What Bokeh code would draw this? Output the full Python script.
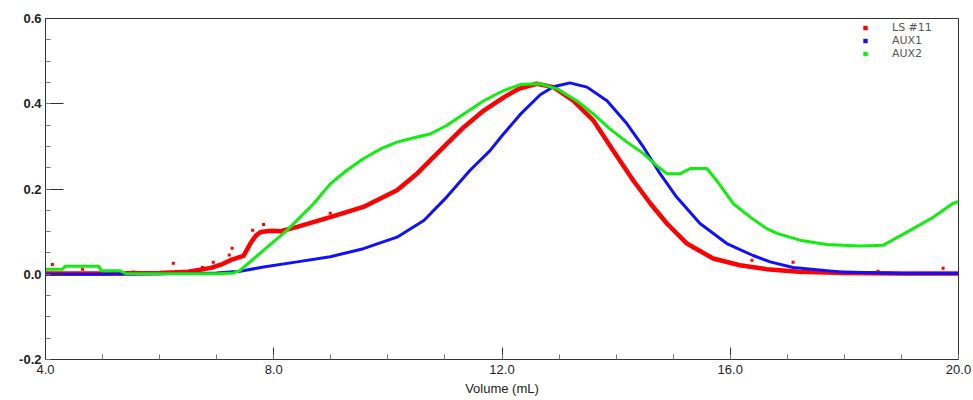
from bokeh.plotting import figure
from bokeh.models import (Range1d, FixedTicker, NumeralTickFormatter, Legend, LegendItem)
from bokeh.embed import file_html
from bokeh.resources import INLINE

# ---- data ----
ls11_x = [4.0, 5.0, 6.0, 6.5, 6.9, 7.1, 7.24, 7.4, 7.47, 7.59, 7.68, 7.77, 7.95, 8.12, 8.41,
          8.99, 9.57, 10.16, 10.51, 10.86, 11.33, 11.68, 12.03, 12.29, 12.61, 12.9, 13.25,
          13.6, 13.95, 14.3, 14.6, 14.89, 15.24, 15.7, 16.17, 16.64, 17.2, 18.0, 19.0, 20.0]
ls11_y = [0.002, 0.002, 0.003, 0.006, 0.015, 0.024, 0.033, 0.040, 0.043, 0.072, 0.090, 0.099,
          0.102, 0.101, 0.111, 0.134, 0.158, 0.197, 0.236, 0.283, 0.345, 0.384, 0.415, 0.435,
          0.447, 0.439, 0.407, 0.361, 0.290, 0.220, 0.166, 0.119, 0.072, 0.037, 0.021, 0.012,
          0.006, 0.003, 0.002, 0.002]
ls11_out_x = [4.12, 4.65, 5.54, 6.24, 6.75, 6.94, 7.22, 7.27, 7.63, 7.82, 8.99, 16.38, 17.1, 18.59, 19.73]
ls11_out_y = [0.023, 0.012, 0.005, 0.026, 0.016, 0.028, 0.045, 0.061, 0.103, 0.117, 0.143,
              0.033, 0.028, 0.007, 0.014]

aux1_x = [4.0, 5.0, 6.0, 7.0, 7.41, 7.82, 8.41, 8.99, 9.57, 10.16, 10.63, 11.03, 11.44, 11.79,
          12.0, 12.32, 12.67, 12.9, 13.19, 13.49, 13.84, 14.19, 14.48, 14.77, 15.06, 15.47,
          15.94, 16.4, 16.7, 17.1, 17.98, 19.0, 20.0]
aux1_y = [0.0, 0.0, 0.001, 0.003, 0.007, 0.017, 0.029, 0.041, 0.060, 0.087, 0.126, 0.181, 0.244,
          0.290, 0.325, 0.375, 0.421, 0.440, 0.449, 0.439, 0.407, 0.353, 0.298, 0.236, 0.181,
          0.119, 0.072, 0.044, 0.029, 0.016, 0.005, 0.002, 0.002]

aux2_x = [4.0, 4.3, 4.35, 4.93, 4.98, 5.31, 5.4, 6.0, 7.0, 7.3, 7.41, 7.82, 8.23, 8.7, 8.99,
          9.28, 9.57, 9.87, 10.16, 10.51, 10.74, 11.03, 11.33, 11.68, 12.03, 12.32, 12.67,
          12.96, 13.31, 13.6, 13.89, 14.19, 14.48, 14.71, 14.89, 15.12, 15.3, 15.59, 15.76,
          16.05, 16.35, 16.64, 16.82, 17.22, 17.69, 18.27, 18.68, 19.15, 19.55, 19.9, 20.0]
aux2_y = [0.012, 0.012, 0.019, 0.019, 0.008, 0.008, 0.002, 0.001, 0.001, 0.003, 0.009, 0.056,
          0.103, 0.166, 0.212, 0.244, 0.271, 0.294, 0.310, 0.322, 0.329, 0.349, 0.376, 0.407,
          0.431, 0.445, 0.447, 0.435, 0.407, 0.376, 0.341, 0.310, 0.283, 0.255, 0.236, 0.236,
          0.248, 0.248, 0.220, 0.166, 0.134, 0.107, 0.096, 0.080, 0.070, 0.066, 0.068, 0.103,
          0.133, 0.166, 0.170]

series_names = ["LS #11", "AUX1", "AUX2"]
x_ticks = [4, 8, 12, 16, 20]
y_ticks = [-0.2, 0.0, 0.2, 0.4, 0.6]

RED, BLUE, GREEN = "#ff0000", "#1010ff", "#10ee10"

p = figure(width=973, height=400, output_backend="svg", toolbar_location=None,
           x_range=Range1d(4, 20), y_range=Range1d(-0.2, 0.6),
           min_border_left=45, min_border_right=15, min_border_top=18, min_border_bottom=41)
p.grid.visible = False
p.outline_line_color = "#333333"
p.outline_line_width = 1
p.background_fill_color = "white"
p.border_fill_color = "white"

p.line(ls11_x, ls11_y, color=RED, line_width=4.5)
p.scatter(ls11_out_x, ls11_out_y, marker="square", size=3, color=RED, line_color=None)
p.line(aux1_x, aux1_y, color=BLUE, line_width=3)
p.line(aux2_x, aux2_y, color=GREEN, line_width=3)

# legend glyph renderers (single point outside the visible range)
d1 = p.scatter([-10], [-10], marker="square", size=3, color=RED, line_color=None)
d2 = p.scatter([-10], [-10], marker="square", size=3, color=BLUE, line_color=None)
d3 = p.scatter([-10], [-10], marker="square", size=3, color=GREEN, line_color=None)
legend = Legend(items=[LegendItem(label=series_names[0], renderers=[d1]),
                       LegendItem(label=series_names[1], renderers=[d2]),
                       LegendItem(label=series_names[2], renderers=[d3])],
                location=(813, 299), border_line_color=None, background_fill_alpha=0,
                margin=0, padding=0, spacing=-1, glyph_width=14, glyph_height=11,
                label_height=11, label_standoff=20, label_text_font="DejaVu Sans",
                label_text_font_size="11px", label_text_color="#555555")
p.add_layout(legend, "center")

xa = p.xaxis[0]
xa.ticker = FixedTicker(ticks=x_ticks, minor_ticks=list(range(4, 21)))
xa.formatter = NumeralTickFormatter(format="0.0")
xa.major_tick_in = 12
xa.major_tick_out = 0
xa.minor_tick_in = 5
xa.minor_tick_out = 0
xa.axis_line_color = "#333333"
xa.major_tick_line_color = "#333333"
xa.minor_tick_line_color = "#777777"
xa.major_label_text_font = "Liberation Sans"
xa.major_label_text_font_size = "13px"
xa.major_label_text_color = "#222222"
xa.major_label_standoff = 5
xa.axis_label = "Volume (mL)"
xa.axis_label_text_font = "Liberation Sans"
xa.axis_label_text_font_size = "13px"
xa.axis_label_text_font_style = "normal"
xa.axis_label_text_color = "#222222"
xa.axis_label_standoff = 4

ya = p.yaxis[0]
ya.ticker = FixedTicker(ticks=y_ticks, minor_ticks=[-0.2 + 0.05 * i for i in range(17)])
ya.formatter = NumeralTickFormatter(format="0.0")
ya.major_tick_in = 18
ya.major_tick_out = 0
ya.minor_tick_in = 5
ya.minor_tick_out = 0
ya.axis_line_color = "#333333"
ya.major_tick_line_color = "#333333"
ya.minor_tick_line_color = "#777777"
ya.major_label_text_font = "Liberation Sans"
ya.major_label_text_font_size = "13px"
ya.major_label_text_font_style = "bold"
ya.major_label_text_color = "#222222"
ya.major_label_standoff = 4

open("out.html", "w").write(file_html(p, INLINE))
